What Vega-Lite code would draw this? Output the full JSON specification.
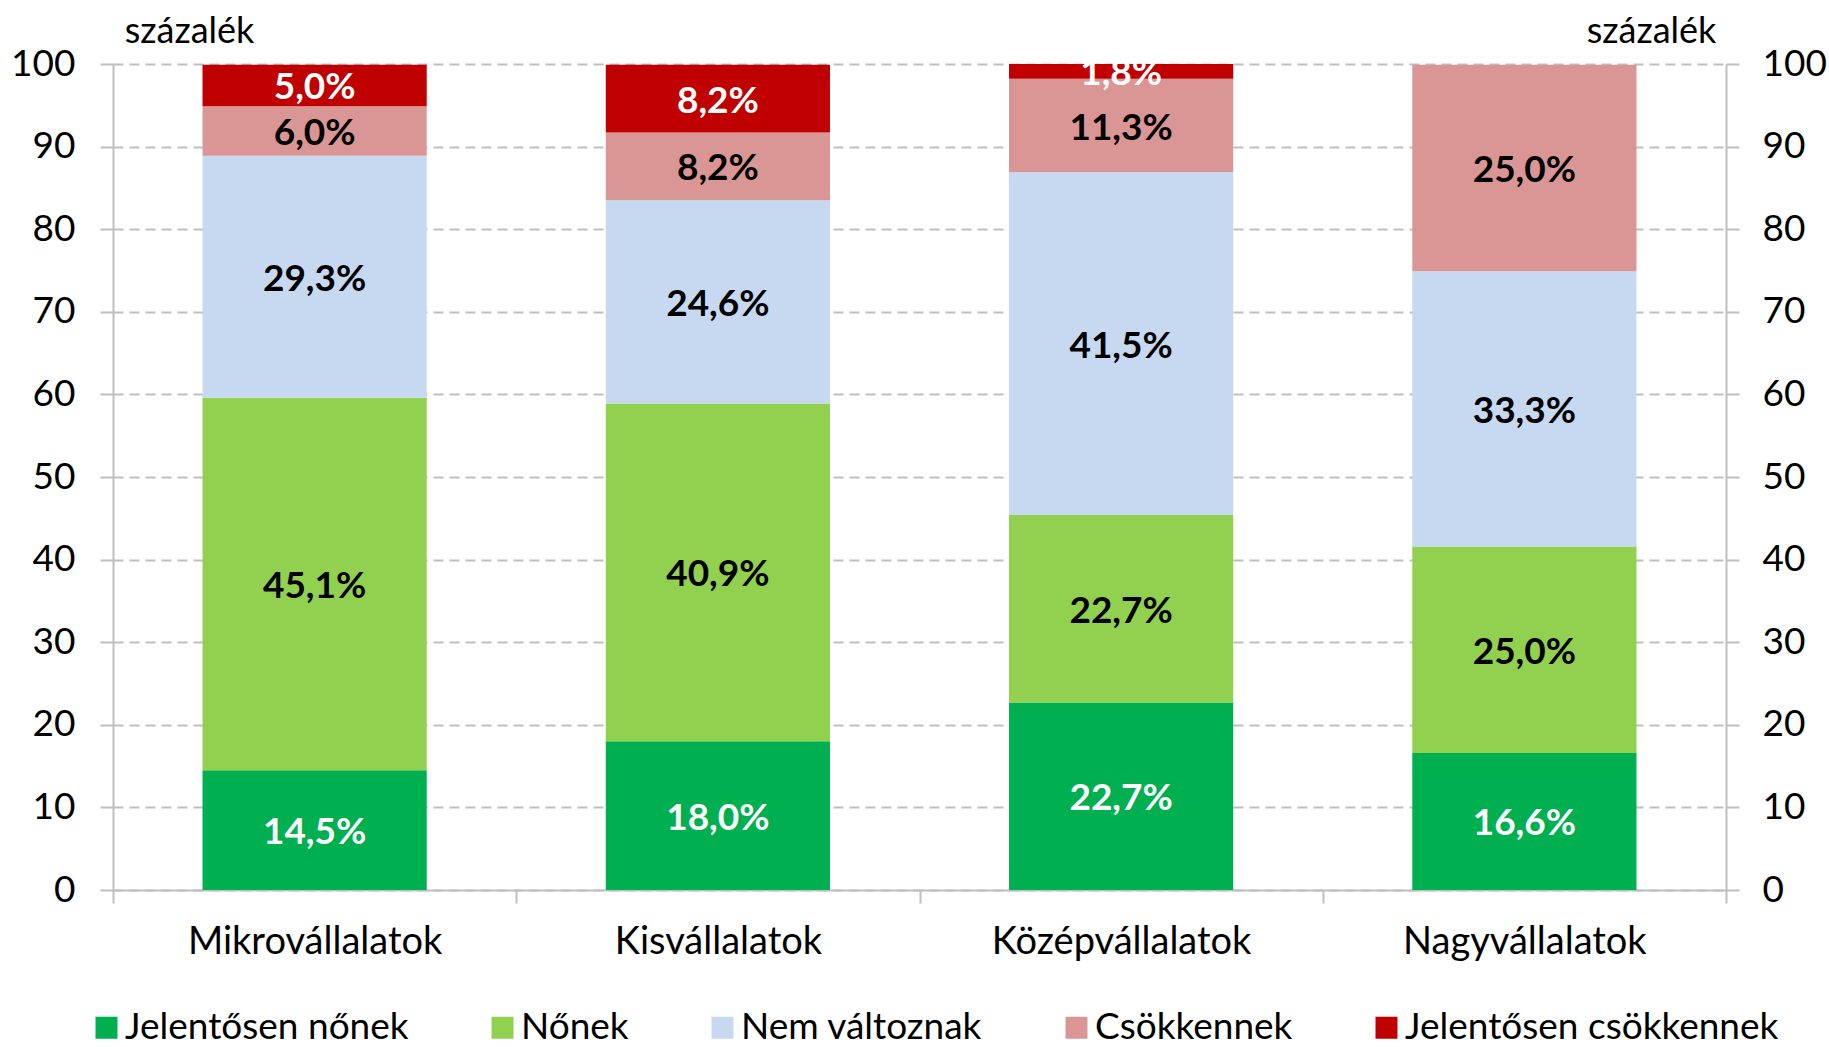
{
  "$schema": "https://vega.github.io/schema/vega-lite/v6.json",
  "width": 1613,
  "height": 826,
  "autosize": {"type": "none"},
  "padding": {"left": 113, "top": 64, "right": 103, "bottom": 157},
  "background": "white",
  "config": {
    "locale": {"number": {"decimal": ",", "thousands": " ", "grouping": [3], "currency": ["", "%"]}},
    "font": "Lato",
    "view": {"stroke": null}
  },
  "data": {
    "values": [
      {"cat": "Mikrovállalatok", "s": "Jelentősen nőnek", "k": 1, "v": 14.5},
      {"cat": "Mikrovállalatok", "s": "Nőnek", "k": 2, "v": 45.1},
      {"cat": "Mikrovállalatok", "s": "Nem változnak", "k": 3, "v": 29.3},
      {"cat": "Mikrovállalatok", "s": "Csökkennek", "k": 4, "v": 6.0},
      {"cat": "Mikrovállalatok", "s": "Jelentősen csökkennek", "k": 5, "v": 5.0},
      {"cat": "Kisvállalatok", "s": "Jelentősen nőnek", "k": 1, "v": 18.0},
      {"cat": "Kisvállalatok", "s": "Nőnek", "k": 2, "v": 40.9},
      {"cat": "Kisvállalatok", "s": "Nem változnak", "k": 3, "v": 24.6},
      {"cat": "Kisvállalatok", "s": "Csökkennek", "k": 4, "v": 8.2},
      {"cat": "Kisvállalatok", "s": "Jelentősen csökkennek", "k": 5, "v": 8.2},
      {"cat": "Középvállalatok", "s": "Jelentősen nőnek", "k": 1, "v": 22.7},
      {"cat": "Középvállalatok", "s": "Nőnek", "k": 2, "v": 22.7},
      {"cat": "Középvállalatok", "s": "Nem változnak", "k": 3, "v": 41.5},
      {"cat": "Középvállalatok", "s": "Csökkennek", "k": 4, "v": 11.3},
      {"cat": "Középvállalatok", "s": "Jelentősen csökkennek", "k": 5, "v": 1.8},
      {"cat": "Nagyvállalatok", "s": "Jelentősen nőnek", "k": 1, "v": 16.6},
      {"cat": "Nagyvállalatok", "s": "Nőnek", "k": 2, "v": 25.0},
      {"cat": "Nagyvállalatok", "s": "Nem változnak", "k": 3, "v": 33.3},
      {"cat": "Nagyvállalatok", "s": "Csökkennek", "k": 4, "v": 25.0},
      {"cat": "Nagyvállalatok", "s": "Jelentősen csökkennek", "k": 5, "v": 0}
    ]
  },
  "layer": [
    {
      "mark": {"type": "bar", "width": {"band": 0.556}},
      "encoding": {
        "x": {
          "field": "cat", "type": "nominal",
          "sort": ["Mikrovállalatok", "Kisvállalatok", "Középvállalatok", "Nagyvállalatok"],
          "scale": {"paddingInner": 0, "paddingOuter": 0},
          "axis": {
            "title": null, "labelAngle": 0, "labelFontSize": 38, "labelColor": "black", "labelLimit": 0,
            "tickBand": "extent", "tickSize": 13, "tickColor": "#BFBFBF", "tickWidth": 2,
            "domainColor": "#BFBFBF", "domainWidth": 2, "labelPadding": 20, "grid": false
          }
        },
        "y": {
          "field": "v", "type": "quantitative", "stack": "zero",
          "scale": {"domain": [0, 100], "nice": false},
          "axis": {
            "orient": "left", "values": [0, 10, 20, 30, 40, 50, 60, 70, 80, 90, 100],
            "grid": true, "gridDash": [10, 6], "gridColor": "#BFBFBF", "gridWidth": 2,
            "domainColor": "#BFBFBF", "domainWidth": 2, "tickColor": "#BFBFBF", "tickWidth": 2, "tickSize": 13,
            "labelFontSize": 37, "labelColor": "black", "labelPadding": 25,
            "title": "százalék", "titleAngle": 0, "titleFontSize": 36, "titleFontWeight": "normal", "titleColor": "black",
            "titleX": 76, "titleY": -33, "titleAlign": "center", "titleBaseline": "middle"
          }
        },
        "color": {
          "field": "s", "type": "nominal",
          "scale": {
            "domain": ["Jelentősen nőnek", "Nőnek", "Nem változnak", "Csökkennek", "Jelentősen csökkennek"],
            "range": ["#00B050", "#92D050", "#C6D9F1", "#D99694", "#C00000"]
          },
          "legend": {
            "title": null, "orient": "none", "legendX": -25, "legendY": 945, "direction": "horizontal", "columns": 5,
            "symbolType": "square", "symbolSize": 484, "symbolStrokeWidth": 0, "symbolOpacity": 1,
            "labelFontSize": 37, "labelColor": "black", "labelOffset": 0, "columnPadding": 75, "labelLimit": 0
          }
        },
        "order": {"field": "k", "type": "quantitative"}
      }
    },
    {
      "transform": [{"filter": "datum.v > 0"}],
      "mark": {"type": "text", "fontSize": 37, "fontWeight": "bold", "baseline": "middle", "align": "center", "dy": 3},
      "encoding": {
        "x": {"field": "cat", "type": "nominal", "sort": ["Mikrovállalatok", "Kisvállalatok", "Középvállalatok", "Nagyvállalatok"]},
        "y": {
          "field": "v", "type": "quantitative", "stack": "zero", "bandPosition": 0.5,
          "axis": {
            "orient": "right", "values": [0, 10, 20, 30, 40, 50, 60, 70, 80, 90, 100], "grid": false,
            "domainColor": "#BFBFBF", "domainWidth": 2, "tickColor": "#BFBFBF", "tickWidth": 2, "tickSize": 13,
            "labelFontSize": 37, "labelColor": "black", "labelPadding": 23,
            "title": "százalék", "titleAngle": 0, "titleFontSize": 36, "titleFontWeight": "normal", "titleColor": "black",
            "titleX": -75, "titleY": -33, "titleAlign": "center", "titleBaseline": "middle"
          }
        },
        "order": {"field": "k", "type": "quantitative"},
        "text": {"field": "v", "type": "quantitative", "format": "$.1f"},
        "color": {
          "condition": {"test": "datum.s === 'Jelentősen nőnek' || datum.s === 'Jelentősen csökkennek'", "value": "white"},
          "value": "black"
        }
      }
    }
  ],
  "resolve": {"axis": {"y": "independent"}}
}
